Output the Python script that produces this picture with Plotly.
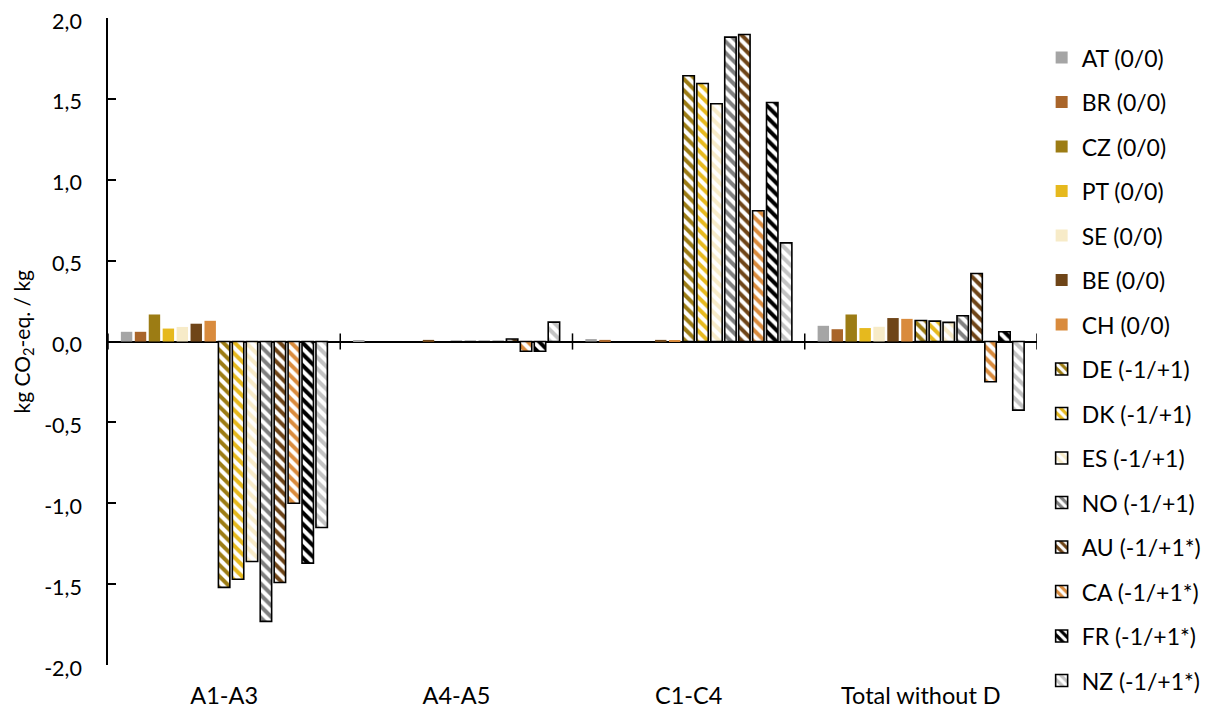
import plotly.graph_objects as go

categories = ["A1-A3", "A4-A5", "C1-C4", "Total without D"]
series_names = ["AT (0/0)", "BR (0/0)", "CZ (0/0)", "PT (0/0)", "SE (0/0)", "BE (0/0)", "CH (0/0)",
                "DE (-1/+1)", "DK (-1/+1)", "ES (-1/+1)", "NO (-1/+1)",
                "AU (-1/+1*)", "CA (-1/+1*)", "FR (-1/+1*)", "NZ (-1/+1*)"]
AT = [0.06, 0.005, 0.015, 0.097]
BR = [0.06, 0.0, 0.01, 0.076]
CZ = [0.167, 0.0, 0.0, 0.167]
PT = [0.08, 0.0, 0.0, 0.083]
SE = [0.09, 0.0, 0.0, 0.091]
BE = [0.11, 0.01, 0.01, 0.145]
CH = [0.128, 0.0, 0.005, 0.14]
DE = [-1.52, 0.0, 1.643, 0.13]
DK = [-1.47, 0.0, 1.595, 0.126]
ES = [-1.36, 0.0, 1.47, 0.118]
NO = [-1.73, 0.0, 1.882, 0.159]
AU = [-1.49, 0.015, 1.898, 0.42]
CA = [-1.00, -0.06, 0.808, -0.249]
FR = [-1.37, -0.06, 1.478, 0.06]
NZ = [-1.15, 0.12, 0.61, -0.424]
values = [AT, BR, CZ, PT, SE, BE, CH, DE, DK, ES, NO, AU, CA, FR, NZ]
hatched = [False] * 7 + [True] * 8

y_tickvals = [-2.0, -1.5, -1.0, -0.5, 0.0, 0.5, 1.0, 1.5, 2.0]
y_ticktext = ["-2,0", "-1,5", "-1,0", "-0,5", "0,0", "0,5", "1,0", "1,5", "2,0"]
y_title = "kg CO<sub>2</sub>-eq. / kg"

colors = ["#a5a5a5", "#a9652a", "#9c7c14", "#e6b91e", "#f7ebc8", "#6f4518", "#d98b3d",
          "#9c7c14", "#e6b91e", "#f7ebc8", "#808080", "#6f4518", "#d98b3d", "#000000", "#c3c3c3"]

FONT = "Lato"
fig = go.Figure()
for name, vals, col, h in zip(series_names, values, colors, hatched):
    if h:
        marker = dict(color=col, line=dict(color="black", width=1.6),
                      pattern=dict(shape="\\", bgcolor=col, fgcolor="white", size=8,
                                   solidity=0.5, fillmode="replace"))
    else:
        marker = dict(color=col, line=dict(width=0))
    fig.add_trace(go.Bar(x=categories, y=vals, name=name, marker=marker, legendgroup=name))

for i in range(len(categories) + 1):
    fig.add_shape(type="line", xref="x", yref="y", x0=i - 0.5, x1=i - 0.5, y0=-0.05, y1=0.05,
                  line=dict(color="black", width=1.5))

fig.add_annotation(text=y_title, xref="paper", yref="paper", x=0, y=0.5, xanchor="center",
                   yanchor="middle", xshift=-86, textangle=-90, showarrow=False,
                   font=dict(size=21, family=FONT, color="black"))

fig.update_layout(
    width=1212, height=702,
    margin=dict(l=100, r=183, t=10, b=45, autoexpand=False),
    plot_bgcolor="white", paper_bgcolor="white",
    font=dict(family=FONT, size=22, color="black"),
    barmode="group", bargap=0.1, bargroupgap=0.18,
    showlegend=True,
    legend=dict(x=1.005, xanchor="left", y=0.972, yanchor="top", font=dict(size=23),
                tracegroupgap=11.6, itemwidth=30, bgcolor="rgba(0,0,0,0)", maxheight=702),
    xaxis=dict(range=[-0.5, 3.5], showline=False, ticks="", showgrid=False, zeroline=False,
               tickfont=dict(size=23.5), ticklabelstandoff=14, automargin=False),
    yaxis=dict(range=[-2.0, 2.0], tickvals=y_tickvals, ticktext=y_ticktext, showgrid=False,
               showline=True, linecolor="black", linewidth=1.5, ticks="inside", ticklen=8,
               tickcolor="black", tickwidth=1.5, zeroline=True, zerolinecolor="black",
               zerolinewidth=1.5, ticklabelstandoff=20, ticklabelshift=3,
               tickfont=dict(size=21.5), automargin=False, ticklabeloverflow="allow"),
)
fig.write_html("out.html")
